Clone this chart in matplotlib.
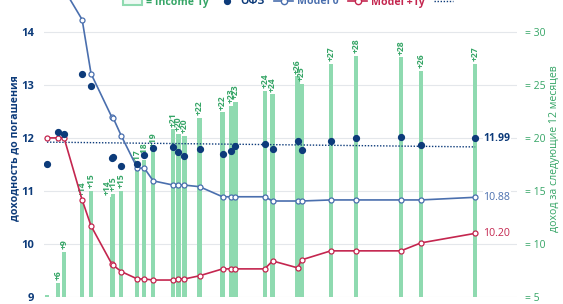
import matplotlib
matplotlib.use('Agg')
import matplotlib.pyplot as plt
from matplotlib.patches import Patch
from matplotlib.lines import Line2D

plt.rcParams['font.family'] = ['Open Sans', 'DejaVu Sans']

# years to maturity of each bond
maturity = [0.12, 0.57, 0.81, 1.54, 1.90, 2.73, 2.79, 3.12, 3.77, 4.05, 4.41,
            5.22, 5.43, 5.67, 6.28, 7.21, 7.57, 7.73, 8.91, 9.23, 10.24, 10.40,
            11.58, 12.59, 14.41, 15.22, 17.41]
# income over next 12 months (right axis)
income_1y = [5.2, 6.3, 9.25, 14.3, 15.0, 14.4, 14.7, 15.0, 17.3, 17.9, 18.9,
             20.8, 20.4, 20.2, 21.9, 22.4, 23.0, 23.4, 24.4, 24.1, 25.8, 25.1,
             27.0, 27.7, 27.6, 26.3, 27.0]
income_labels = ['', '+6', '+9', '+14', '+15', '+14', '+15', '+15', '+17', '+18', '+19',
                 '+21', '+20', '+20', '+22', '+22', '+23', '+23', '+24', '+24', '+26', '+25',
                 '+27', '+28', '+28', '+26', '+27']
# yield to maturity, OFZ
ofz = [11.51, 12.11, 12.08, 13.21, 12.98, 11.62, 11.64, 11.47, 11.51, 11.68, 11.81,
       11.83, 11.74, 11.66, 11.79, 11.70, 11.75, 11.85, 11.89, 11.79, 11.94, 11.77,
       11.94, 12.00, 12.02, 11.87, 11.99]
model_0 = [16.0, 15.4, 14.8, 14.23, 13.21, 12.40, 12.38, 12.04, 11.43, 11.43, 11.19,
           11.11, 11.11, 11.11, 11.08, 10.89, 10.89, 10.89, 10.89, 10.81, 10.81, 10.81,
           10.83, 10.83, 10.83, 10.83, 10.88]
model_1y = [12.00, 12.00, 12.00, 10.83, 10.34, 9.63, 9.60, 9.48, 9.34, 9.34, 9.32,
            9.32, 9.34, 9.34, 9.40, 9.53, 9.53, 9.53, 9.53, 9.68, 9.55, 9.70,
            9.87, 9.87, 9.87, 10.02, 10.20]
trend_x = [0.12, 17.41]
trend_y = [11.92, 11.83]

navy = '#0d3b7a'
steel = '#4a6fae'
crimson = '#c4264f'
bar_green = '#8fdab0'
text_green = '#35a566'
grid_col = '#e4e7eb'

fig = plt.figure(figsize=(5.63, 3.04), dpi=100)
ax = fig.add_axes([44/563, 7/304, (517-44)/563, 297/304])
ax2 = ax.twinx()

# bars on the right axis, drawn underneath
ax2.bar(maturity, income_1y, width=0.17, bottom=0, color=bar_green, zorder=2)
shift = {5: -0.2}
for i, (x, v, lab) in enumerate(zip(maturity, income_1y, income_labels)):
    if lab:
        ax2.annotate(lab, (x + shift.get(i, 0), v), xytext=(0, 2), textcoords='offset points',
                     rotation=90, ha='center', va='bottom', fontsize=6.2,
                     color=text_green, fontweight='bold', zorder=3)
ax2.set_ylim(5, 5 + (14.6 - 9) * 5)
rticks = [5, 10, 15, 20, 25, 30]
ax2.set_yticks(rticks, labels=['= %d' % t for t in rticks])
ax2.tick_params(axis='y', length=0, pad=6, labelsize=7.5, labelcolor=text_green)
ax2.set_ylabel('доход за следующие 12 месяцев', color=text_green, fontsize=7.6, labelpad=2)
ax2.set_axisbelow(True)
ax2.grid(True, color=grid_col, lw=0.8)
ax2.set_xticks(range(0, 20))

ax.set_zorder(ax2.get_zorder() + 1)
ax.patch.set_visible(False)

ax.plot(trend_x, trend_y, ls=(0, (1, 1.2)), color=navy, lw=1.0)
ax.plot(maturity, model_0, color=steel, lw=1.2, marker='o', ms=3.6,
        mfc='white', mec=steel, mew=0.9)
ax.plot(maturity, model_1y, color=crimson, lw=1.2, marker='o', ms=3.6,
        mfc='white', mec=crimson, mew=0.9)
ax.plot(maturity, ofz, ls='', marker='o', ms=4.2, color=navy)

bb = dict(facecolor='white', edgecolor='none', pad=0.5)
ax.annotate('%.2f' % ofz[-1], (maturity[-1], ofz[-1]), xytext=(6, 0), textcoords='offset points',
            va='center', ha='left', fontsize=7.6, color=navy, fontweight='bold', bbox=bb)
ax.annotate('%.2f' % model_0[-1], (maturity[-1], model_0[-1]), xytext=(6, 0), textcoords='offset points',
            va='center', ha='left', fontsize=7.6, color=steel, bbox=bb)
ax.annotate('%.2f' % model_1y[-1], (maturity[-1], model_1y[-1]), xytext=(6, 0), textcoords='offset points',
            va='center', ha='left', fontsize=7.6, color=crimson, bbox=bb)

ax.set_xlim(0, 19.1)
ax.set_ylim(9, 14.6)
lticks = [9, 10, 11, 12, 13, 14]
ax.set_yticks(lticks, labels=[str(t) for t in lticks], fontweight='bold')
ax.tick_params(axis='y', length=0, pad=7, labelsize=8, labelcolor=navy)
ax.tick_params(axis='x', length=0, labelbottom=False)
ax2.tick_params(axis='x', length=0, labelbottom=False)
ax.set_ylabel('доходность до погашения', color=navy, fontsize=7.6, fontweight='bold', labelpad=0.5)

for a in (ax, ax2):
    for s in a.spines.values():
        s.set_visible(False)

handles = [Patch(facecolor='#eef9f3', edgecolor=bar_green, lw=1.5),
           Line2D([], [], ls='', marker='o', ms=4.2, color=navy),
           Line2D([], [], color=steel, lw=1.2, marker='o', ms=4.5, mfc='white', mec=steel),
           Line2D([], [], color=crimson, lw=1.2, marker='o', ms=4.5, mfc='white', mec=crimson),
           Line2D([], [], color=navy, ls=(0, (1, 1.2)), lw=1.0)]
labels = ['= Income 1y', 'ОФЗ', 'Model 0', 'Model +1y', '']
leg = fig.legend(handles, labels, loc='center', bbox_to_anchor=(0.515, 1 - 2/304), ncol=5,
                 frameon=False, fontsize=7.6, handlelength=1.8, columnspacing=0.9,
                 handletextpad=0.35)
for txt, c in zip(leg.get_texts(), [text_green, navy, steel, crimson, navy]):
    txt.set_color(c)
    txt.set_fontweight('bold')

fig.savefig('out.png', dpi=100)
